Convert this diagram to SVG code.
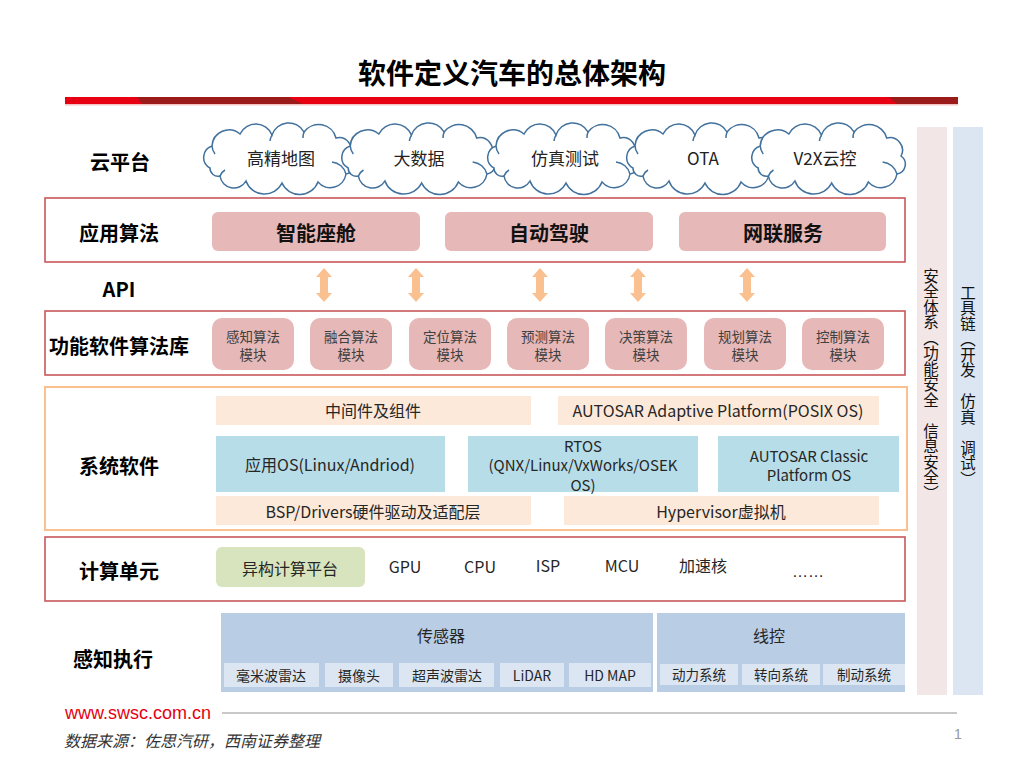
<svg xmlns="http://www.w3.org/2000/svg" xmlns:xlink="http://www.w3.org/1999/xlink" width="1024" height="768" viewBox="0 0 1024 768">
<style>
text{font-family:"Noto Sans CJK SC","Noto Sans",sans-serif;text-anchor:middle;dominant-baseline:central}
.title{font-size:28px;font-weight:700;fill:#000}
.lbl{font-size:20px;font-weight:700;fill:#000}
.big{font-size:20px;font-weight:700;fill:#111}
.cl{font-size:17px;fill:#222}
.mod{font-size:13.5px;fill:#404040}
.sys{font-size:16px;fill:#262626}
.sys2{font-size:15px;fill:#262626}
.sub{font-size:14px;fill:#262626}
.row{fill:#fff;stroke:#C9585A;stroke-width:1.6}
.rowo{fill:#fff;stroke:#FAC090;stroke-width:2}
.pink{fill:#E6B8B7}
.peach{fill:#FDE9D9}
.blue{fill:#B7DDE8}
.sens{fill:#B9CDE5}
.sensub{fill:#DCE6F2}
.cloud{fill:#fff;stroke:#41719C;stroke-width:1.5}
.curl{fill:none;stroke:#41719C;stroke-width:1.5}
.arr{fill:#FAC090}
.vert{writing-mode:vertical-rl;text-anchor:start;dominant-baseline:central;font-size:15.5px;fill:#111}
</style>
<defs>
<g id="cloudShape">
<path class="cloud" d="M10,46 A12,12 0 0 1 12,24 A17,17 0 0 1 40,12 A17.5,17.5 0 0 1 72,13 A17.5,17.5 0 0 1 104,10 A18,18 0 0 1 136,16 A12.5,12.5 0 0 1 150,34 A10,10 0 0 1 146,52 A16,16 0 0 1 118,60 A19.5,19.5 0 0 1 82,61 A19.5,19.5 0 0 1 46,59 A14,14 0 0 1 20,54 A8,8 0 0 1 10,46 Z"/>
<path class="curl" d="M132,40 A16,16 0 0 1 146,52 M12,24 A14,14 0 0 0 15,32 M20,54 A12,12 0 0 1 25,48 M72,13 A16,16 0 0 0 70,19 M104,10 A16,16 0 0 0 103,16"/>
</g>
</defs>
<rect width="1024" height="768" fill="#fff"/>

<g id="title">
<text class="title" x="512" y="72">软件定义汽车的总体架构</text>
<rect x="65" y="97" width="893" height="7" fill="#E60012"/>
<polygon points="137,97 288,97 303,104 142,104" fill="#9B1B1B"/>
<polygon points="889,97 958,97 958,104 897,104" fill="#9B1B1B"/>
<rect x="65" y="104" width="893" height="1.5" fill="#F2C4C4"/>
</g>

<g id="side-columns">
<g id="security">
<rect x="917" y="127" width="30" height="568" fill="#F2E6E6"/>
<text class="vert" x="931" y="268">安全体系（功能安全　信息安全）</text>
</g>
<g id="toolchain">
<rect x="953" y="127" width="30" height="568" fill="#DCE6F2"/>
<text class="vert" x="968" y="285">工具链（开发　仿真　调试）</text>
</g>
</g>

<g id="cloud-layer">
<text class="lbl" x="120" y="161">云平台</text>
<g id="cloud-hdmap"><use xlink:href="#cloudShape" href="#cloudShape" transform="translate(200,122)"/><text class="cl" x="281" y="157">高精地图</text></g>
<g id="cloud-bigdata"><use xlink:href="#cloudShape" href="#cloudShape" transform="translate(338,122) scale(1.02,1)"/><text class="cl" x="419" y="157">大数据</text></g>
<g id="cloud-sim"><use xlink:href="#cloudShape" href="#cloudShape" transform="translate(484,122)"/><text class="cl" x="565" y="157">仿真测试</text></g>
<g id="cloud-ota"><use xlink:href="#cloudShape" href="#cloudShape" transform="translate(623,122)"/><text class="cl" x="703" y="157">OTA</text></g>
<g id="cloud-v2x"><use xlink:href="#cloudShape" href="#cloudShape" transform="translate(748,122) scale(1.02,1)"/><text class="cl" x="825" y="157">V2X云控</text></g>
</g>

<g id="app-layer">
<rect class="row" x="45" y="198" width="860" height="64"/>
<text class="lbl" x="119" y="232">应用算法</text>
<g id="app-cockpit"><rect class="pink" x="212" y="212" width="208" height="39" rx="6"/><text class="big" x="316" y="232">智能座舱</text></g>
<g id="app-adas"><rect class="pink" x="445" y="212" width="208" height="39" rx="6"/><text class="big" x="549" y="232">自动驾驶</text></g>
<g id="app-connect"><rect class="pink" x="679" y="212" width="207" height="39" rx="6"/><text class="big" x="783" y="232">网联服务</text></g>
</g>

<g id="api">
<text class="lbl" x="119" y="288">API</text>
</g>

<g id="connectors">
<polygon class="arr" points="324,268 332,277 328,277 328,293 332,293 324,302 316,293 320,293 320,277 316,277"/>
<polygon class="arr" points="416,268 424,277 420,277 420,293 424,293 416,302 408,293 412,293 412,277 408,277"/>
<polygon class="arr" points="540,268 548,277 544,277 544,293 548,293 540,302 532,293 536,293 536,277 532,277"/>
<polygon class="arr" points="638,268 646,277 642,277 642,293 646,293 638,302 630,293 634,293 634,277 630,277"/>
<polygon class="arr" points="747,268 755,277 751,277 751,293 755,293 747,302 739,293 743,293 743,277 739,277"/>
</g>

<g id="func-layer">
<rect class="row" x="45" y="311" width="860" height="64"/>
<text class="lbl" x="119" y="345">功能软件算法库</text>
<g id="mod-perception"><rect class="pink" x="212" y="318" width="82" height="52" rx="10"/><text class="mod" x="253" y="336">感知算法</text><text class="mod" x="253" y="354">模块</text></g>
<g id="mod-fusion"><rect class="pink" x="310" y="318" width="82" height="52" rx="10"/><text class="mod" x="351" y="336">融合算法</text><text class="mod" x="351" y="354">模块</text></g>
<g id="mod-locate"><rect class="pink" x="409" y="318" width="82" height="52" rx="10"/><text class="mod" x="450" y="336">定位算法</text><text class="mod" x="450" y="354">模块</text></g>
<g id="mod-predict"><rect class="pink" x="507" y="318" width="82" height="52" rx="10"/><text class="mod" x="548" y="336">预测算法</text><text class="mod" x="548" y="354">模块</text></g>
<g id="mod-decision"><rect class="pink" x="605" y="318" width="82" height="52" rx="10"/><text class="mod" x="646" y="336">决策算法</text><text class="mod" x="646" y="354">模块</text></g>
<g id="mod-plan"><rect class="pink" x="704" y="318" width="82" height="52" rx="10"/><text class="mod" x="745" y="336">规划算法</text><text class="mod" x="745" y="354">模块</text></g>
<g id="mod-control"><rect class="pink" x="802" y="318" width="82" height="52" rx="10"/><text class="mod" x="843" y="336">控制算法</text><text class="mod" x="843" y="354">模块</text></g>
</g>

<g id="sys-layer">
<rect class="rowo" x="45" y="387" width="862" height="143"/>
<text class="lbl" x="119" y="465">系统软件</text>
<g id="sys-middleware"><rect class="peach" x="216" y="396" width="315" height="29"/><text class="sys" x="373" y="410">中间件及组件</text></g>
<g id="sys-adaptive"><rect class="peach" x="558" y="396" width="321" height="29"/><text class="sys" x="718" y="410">AUTOSAR Adaptive Platform(POSIX OS)</text></g>
<g id="sys-appos"><rect class="blue" x="216" y="436" width="229" height="56"/><text class="sys" x="330" y="464">应用OS(Linux/Andriod)</text></g>
<g id="sys-rtos"><rect class="blue" x="468" y="436" width="230" height="56"/><text class="sys2" x="583" y="445">RTOS</text><text class="sys2" x="583" y="464.5">(QNX/Linux/VxWorks/OSEK</text><text class="sys2" x="583" y="484">OS)</text></g>
<g id="sys-classic"><rect class="blue" x="718" y="436" width="181" height="56"/><text class="sys2" x="809" y="455">AUTOSAR Classic</text><text class="sys2" x="809" y="474">Platform OS</text></g>
<g id="sys-bsp"><rect class="peach" x="216" y="496" width="315" height="29"/><text class="sys" x="373" y="511">BSP/Drivers硬件驱动及适配层</text></g>
<g id="sys-hypervisor"><rect class="peach" x="564" y="496" width="315" height="29"/><text class="sys" x="721" y="511">Hypervisor虚拟机</text></g>
</g>

<g id="compute-layer">
<rect class="row" x="45" y="537" width="860" height="64"/>
<text class="lbl" x="119" y="570">计算单元</text>
<g id="cmp-hetero"><rect x="216" y="547" width="149" height="40" rx="6" fill="#D7E4BD"/><text class="sys" x="290" y="568">异构计算平台</text></g>
<g id="cmp-gpu"><text class="sys" x="405" y="566">GPU</text></g>
<g id="cmp-cpu"><text class="sys" x="480" y="566">CPU</text></g>
<g id="cmp-isp"><text class="sys" x="548" y="565">ISP</text></g>
<g id="cmp-mcu"><text class="sys" x="622" y="565">MCU</text></g>
<g id="cmp-accel"><text class="sys" x="703" y="565">加速核</text></g>
<g id="cmp-more"><text x="808" y="577" style="font-family:'Liberation Sans',sans-serif;font-size:16px;fill:#262626;dominant-baseline:alphabetic">……</text></g>
</g>

<g id="sense-layer">
<text class="lbl" x="113" y="658">感知执行</text>
<g id="sensors">
<rect class="sens" x="221" y="613" width="432" height="79"/>
<text class="sys" x="441" y="635">传感器</text>
<rect class="sensub" x="224" y="663" width="95" height="24"/><text class="sub" x="271" y="675">毫米波雷达</text>
<rect class="sensub" x="325" y="663" width="68" height="24"/><text class="sub" x="359" y="675">摄像头</text>
<rect class="sensub" x="399" y="663" width="95" height="24"/><text class="sub" x="447" y="675">超声波雷达</text>
<rect class="sensub" x="500" y="663" width="64" height="24"/><text class="sub" x="532" y="675">LiDAR</text>
<rect class="sensub" x="569" y="663" width="82" height="24"/><text class="sub" x="610" y="675">HD MAP</text>
</g>
<g id="by-wire">
<rect class="sens" x="657" y="613" width="248" height="79"/>
<text class="sys" x="769" y="635">线控</text>
<rect class="sensub" x="660" y="664" width="78" height="21"/><text class="sub" x="699" y="674" style="font-size:13.5px">动力系统</text>
<rect class="sensub" x="742" y="664" width="78" height="21"/><text class="sub" x="781" y="674" style="font-size:13.5px">转向系统</text>
<rect class="sensub" x="823" y="664" width="82" height="21"/><text class="sub" x="864" y="674" style="font-size:13.5px">制动系统</text>
</g>
</g>

<g id="footer">
<text x="65" y="719" style="font-family:'Liberation Sans',Arial,sans-serif;font-size:18px;fill:#E60012;text-anchor:start;dominant-baseline:alphabetic">www.swsc.com.cn</text>
<rect x="222" y="712" width="735" height="2" fill="#C8C8C8"/>
<text x="64" y="740" style="font-size:16px;font-style:italic;fill:#333;text-anchor:start;font-family:'Noto Sans CJK SC',serif">数据来源：佐思汽研，西南证券整理</text>
<text x="958" y="734" style="font-family:'Liberation Sans',sans-serif;font-size:14px;fill:#999">1</text>
</g>
</svg>
